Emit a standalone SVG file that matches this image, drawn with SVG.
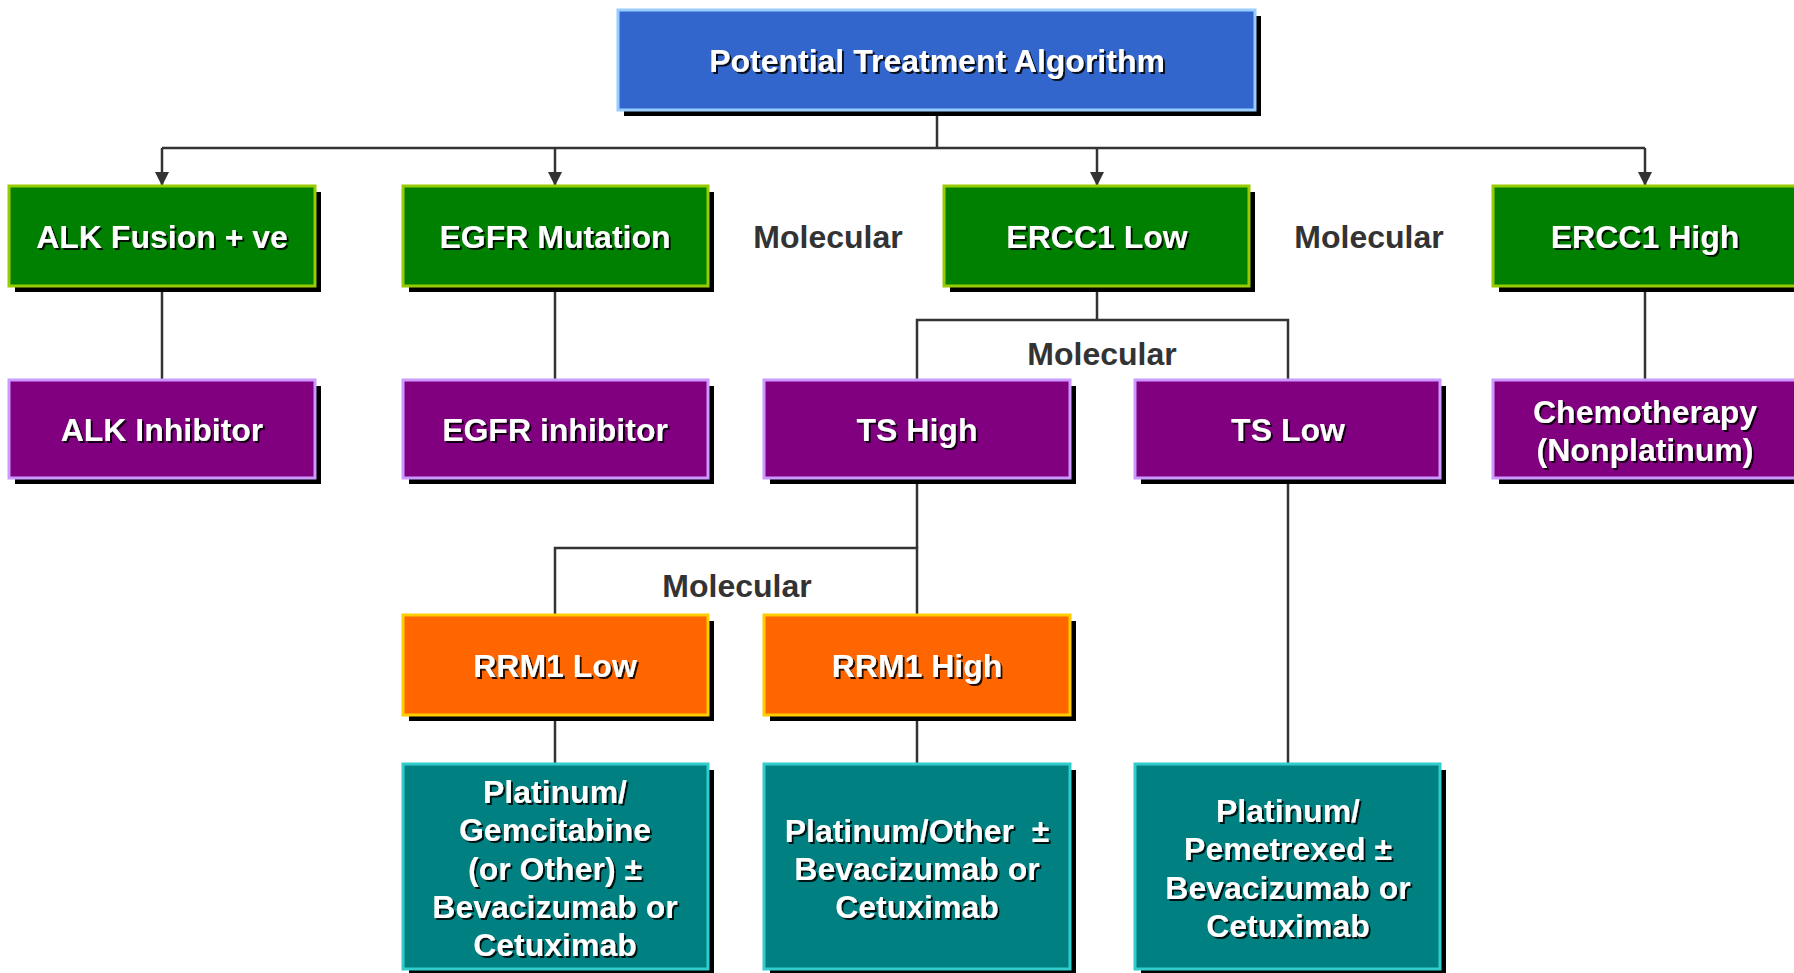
<svg xmlns="http://www.w3.org/2000/svg" width="1794" height="973" viewBox="0 0 1794 973">
<defs>
<style>
.sh{fill:#000}
.bx{stroke-width:3}
.blue{fill:#3366CC;stroke:#99CCFF}
.green{fill:#008000;stroke:#99CC00}
.purple{fill:#800080;stroke:#CC99FF}
.orange{fill:#FF6600;stroke:#FFCC00}
.teal{fill:#008080;stroke:#33CCCC}
.t{font-family:"Liberation Sans",Arial,sans-serif;font-weight:bold;font-size:32px;fill:#fff;text-anchor:middle;filter:url(#ts)}
.m{font-family:"Liberation Sans",Arial,sans-serif;font-weight:bold;font-size:32px;fill:#333;text-anchor:middle}
.c{fill:none;stroke:#333;stroke-width:2.5}
</style>
<filter id="ts" x="-5%" y="-20%" width="110%" height="140%">
<feOffset in="SourceAlpha" dx="1.5" dy="1.5" result="o"/>
<feFlood flood-color="#000" flood-opacity="0.85"/>
<feComposite in2="o" operator="in" result="s"/>
<feMerge><feMergeNode in="s"/><feMergeNode in="SourceGraphic"/></feMerge>
</filter>
<marker id="ah" markerWidth="14" markerHeight="14" refX="14" refY="7" orient="auto" markerUnits="userSpaceOnUse">
<path d="M0,0 L14,7 L0,14 Z" fill="#333"/>
</marker>
</defs>
<rect width="1794" height="973" fill="#fff"/>

<g id="connectors">
<path class="c" d="M937,110 V148"/>
<path class="c" d="M162,148 H1645"/>
<path class="c" d="M162,148 V186" marker-end="url(#ah)"/>
<path class="c" d="M555,148 V186" marker-end="url(#ah)"/>
<path class="c" d="M1097,148 V186" marker-end="url(#ah)"/>
<path class="c" d="M1645,148 V186" marker-end="url(#ah)"/>
<path class="c" d="M162,286 V380"/>
<path class="c" d="M555,286 V380"/>
<path class="c" d="M1645,286 V380"/>
<path class="c" d="M1097,286 V320"/>
<path class="c" d="M917,380 V320 H1288 V380"/>
<path class="c" d="M917,478 V548"/>
<path class="c" d="M555,615 V548 H917 V615"/>
<path class="c" d="M1288,478 V764"/>
<path class="c" d="M555,715 V764"/>
<path class="c" d="M917,715 V764"/>
</g>

<g id="labels">
<text class="m" x="828" y="248">Molecular</text>
<text class="m" x="1369" y="248">Molecular</text>
<text class="m" x="1102" y="365">Molecular</text>
<text class="m" x="737" y="597">Molecular</text>
</g>

<g id="n-title">
<rect class="sh" x="624" y="16" width="637" height="100"/>
<rect class="bx blue" x="618" y="10" width="637" height="100"/>
<text class="t" x="937" y="72">Potential Treatment Algorithm</text>
</g>

<g id="n-alk">
<rect class="sh" x="15" y="192" width="306" height="100"/>
<rect class="bx green" x="9" y="186" width="306" height="100"/>
<text class="t" x="162" y="248">ALK Fusion + ve</text>
</g>
<g id="n-egfr">
<rect class="sh" x="409" y="192" width="305" height="100"/>
<rect class="bx green" x="403" y="186" width="305" height="100"/>
<text class="t" x="555" y="248">EGFR Mutation</text>
</g>
<g id="n-ercc1low">
<rect class="sh" x="950" y="192" width="305" height="100"/>
<rect class="bx green" x="944" y="186" width="305" height="100"/>
<text class="t" x="1097" y="248">ERCC1 Low</text>
</g>
<g id="n-ercc1high">
<rect class="sh" x="1499" y="192" width="305" height="100"/>
<rect class="bx green" x="1493" y="186" width="305" height="100"/>
<text class="t" x="1645" y="248">ERCC1 High</text>
</g>

<g id="n-alkinh">
<rect class="sh" x="15" y="386" width="306" height="98"/>
<rect class="bx purple" x="9" y="380" width="306" height="98"/>
<text class="t" x="162" y="441">ALK Inhibitor</text>
</g>
<g id="n-egfrinh">
<rect class="sh" x="409" y="386" width="305" height="98"/>
<rect class="bx purple" x="403" y="380" width="305" height="98"/>
<text class="t" x="555" y="441">EGFR inhibitor</text>
</g>
<g id="n-tshigh">
<rect class="sh" x="770" y="386" width="306" height="98"/>
<rect class="bx purple" x="764" y="380" width="306" height="98"/>
<text class="t" x="917" y="441">TS High</text>
</g>
<g id="n-tslow">
<rect class="sh" x="1141" y="386" width="305" height="98"/>
<rect class="bx purple" x="1135" y="380" width="305" height="98"/>
<text class="t" x="1288" y="441">TS Low</text>
</g>
<g id="n-chemo">
<rect class="sh" x="1499" y="386" width="305" height="98"/>
<rect class="bx purple" x="1493" y="380" width="305" height="98"/>
<text class="t" x="1645" y="423">Chemotherapy</text>
<text class="t" x="1645" y="461">(Nonplatinum)</text>
</g>

<g id="n-rrm1low">
<rect class="sh" x="409" y="621" width="305" height="100"/>
<rect class="bx orange" x="403" y="615" width="305" height="100"/>
<text class="t" x="555" y="677">RRM1 Low</text>
</g>
<g id="n-rrm1high">
<rect class="sh" x="770" y="621" width="306" height="100"/>
<rect class="bx orange" x="764" y="615" width="306" height="100"/>
<text class="t" x="917" y="677">RRM1 High</text>
</g>

<g id="n-tx1">
<rect class="sh" x="409" y="770" width="305" height="205"/>
<rect class="bx teal" x="403" y="764" width="305" height="205"/>
<text class="t" x="555" y="803">Platinum/</text>
<text class="t" x="555" y="841">Gemcitabine</text>
<text class="t" x="555" y="880">(or Other) ±</text>
<text class="t" x="555" y="918">Bevacizumab or</text>
<text class="t" x="555" y="956">Cetuximab</text>
</g>
<g id="n-tx2">
<rect class="sh" x="770" y="770" width="306" height="205"/>
<rect class="bx teal" x="764" y="764" width="306" height="205"/>
<text class="t" x="917" y="842">Platinum/Other&#160; ±</text>
<text class="t" x="917" y="880">Bevacizumab or</text>
<text class="t" x="917" y="918">Cetuximab</text>
</g>
<g id="n-tx3">
<rect class="sh" x="1141" y="770" width="305" height="205"/>
<rect class="bx teal" x="1135" y="764" width="305" height="205"/>
<text class="t" x="1288" y="822">Platinum/</text>
<text class="t" x="1288" y="860">Pemetrexed ±</text>
<text class="t" x="1288" y="899">Bevacizumab or</text>
<text class="t" x="1288" y="937">Cetuximab</text>
</g>
</svg>
